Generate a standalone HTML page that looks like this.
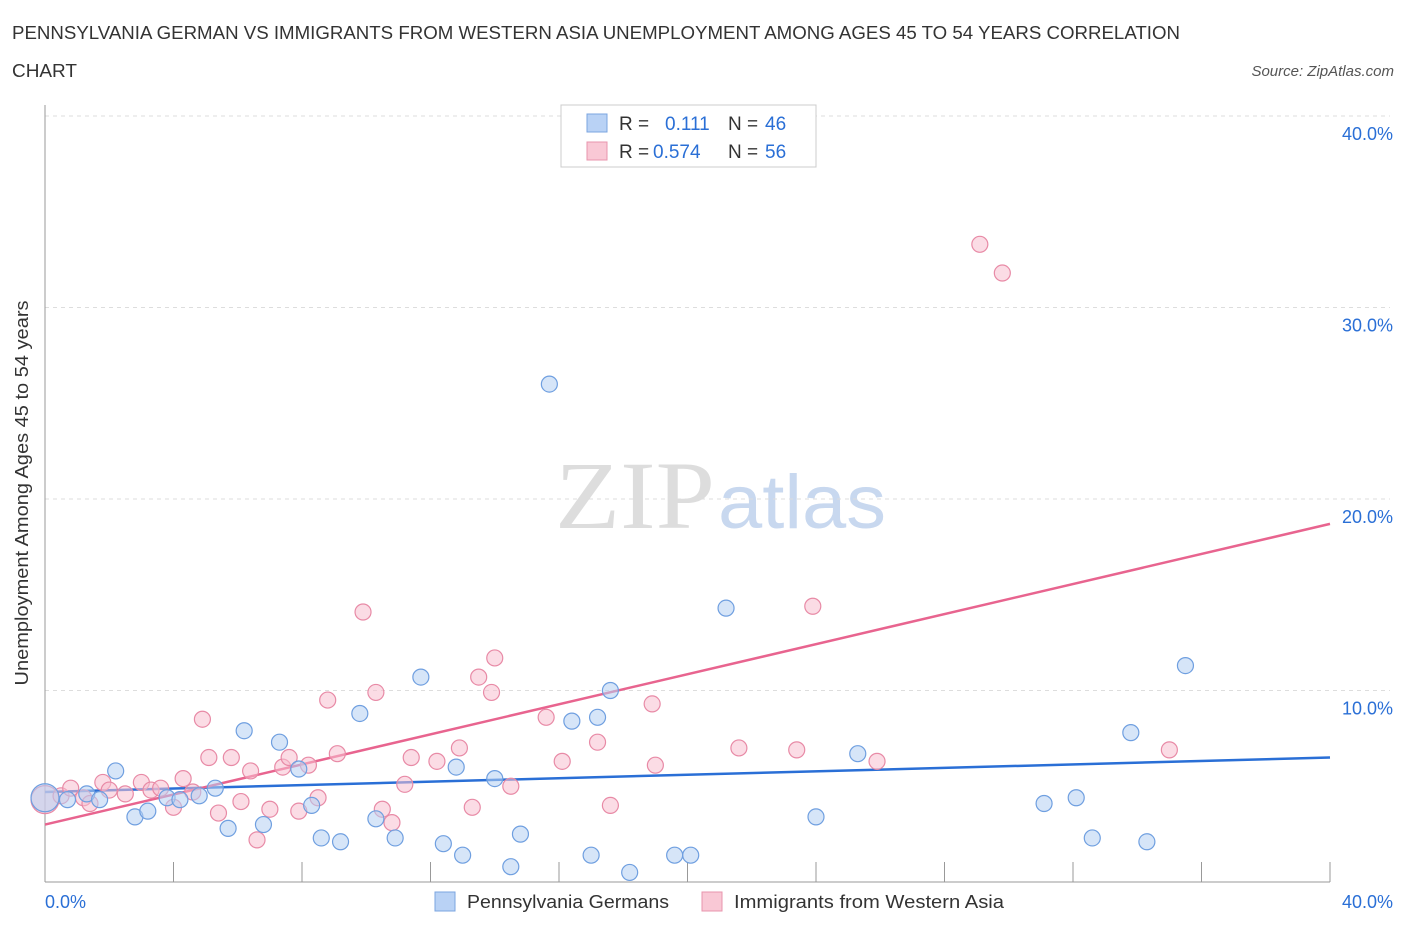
<!DOCTYPE html>
<html><head><meta charset="utf-8"><style>
body{margin:0;background:#fff;font-family:"Liberation Sans",sans-serif;}
</style></head><body>
<svg width="1406" height="930" xmlns="http://www.w3.org/2000/svg">
<text x="12" y="39" font-size="18" fill="#333" textLength="1168" lengthAdjust="spacingAndGlyphs">PENNSYLVANIA GERMAN VS IMMIGRANTS FROM WESTERN ASIA UNEMPLOYMENT AMONG AGES 45 TO 54 YEARS CORRELATION</text>
<text x="12" y="77" font-size="18" fill="#333" textLength="65" lengthAdjust="spacingAndGlyphs">CHART</text>
<text x="1394" y="76" font-size="15" fill="#555" font-style="italic" text-anchor="end">Source: ZipAtlas.com</text>
<text x="555" y="528" font-size="96" fill="#ddd" textLength="160" lengthAdjust="spacingAndGlyphs" font-family="Liberation Serif">ZIP</text>
<text x="718" y="528" font-size="76" fill="#c8d8ef" textLength="168" lengthAdjust="spacingAndGlyphs">atlas</text>
<text x="28" y="493" font-size="18" fill="#333" text-anchor="middle" textLength="385" lengthAdjust="spacingAndGlyphs" transform="rotate(-90 28 493)">Unemployment Among Ages 45 to 54 years</text>
<g id="grid"></g><g id="axes"></g><g id="lines"></g><g id="pts"></g>
<g>
<rect x="561" y="105" width="255" height="62" fill="#fff" stroke="#ccc"/>
<rect x="587" y="114" width="20" height="18" fill="#b9d2f5" stroke="#7ba5e0"/>
<text x="619" y="130" font-size="19" fill="#333">R = </text><text x="665" y="130" font-size="19" fill="#2a6fd6">0.111</text>
<text x="728" y="130" font-size="19" fill="#333">N = </text><text x="765" y="130" font-size="19" fill="#2a6fd6">46</text>
<rect x="587" y="142" width="20" height="18" fill="#f9c8d5" stroke="#e895ad"/>
<text x="619" y="158" font-size="19" fill="#333">R = </text><text x="653" y="158" font-size="19" fill="#2a6fd6">0.574</text>
<text x="728" y="158" font-size="19" fill="#333">N = </text><text x="765" y="158" font-size="19" fill="#2a6fd6">56</text>
</g>
<g>
<rect x="435" y="892" width="20" height="19" fill="#b9d2f5" stroke="#7ba5e0"/>
<text x="467" y="908" font-size="18" fill="#333" textLength="202" lengthAdjust="spacingAndGlyphs">Pennsylvania Germans</text>
<rect x="702" y="892" width="20" height="19" fill="#f9c8d5" stroke="#e895ad"/>
<text x="734" y="908" font-size="18" fill="#333" textLength="270" lengthAdjust="spacingAndGlyphs">Immigrants from Western Asia</text>
</g>
</svg>
<script>
const blueX=[0.0,0.7,1.3,1.7,2.2,2.8,3.2,3.8,4.2,4.8,5.3,5.7,6.2,6.8,7.3,7.9,8.3,8.6,9.2,9.8,10.3,10.9,11.7,12.4,12.8,13.0,14.0,14.5,14.8,15.7,16.4,17.0,17.2,17.6,18.2,19.6,20.1,21.2,24.0,25.3,31.1,32.1,32.6,33.8,34.3,35.5];
const blueY=[4.4,4.3,4.6,4.3,5.8,3.4,3.7,4.4,4.3,4.5,4.9,2.8,7.9,3.0,7.3,5.9,4.0,2.3,2.1,8.8,3.3,2.3,10.7,2.0,6.0,1.4,5.4,0.8,2.5,26.0,8.4,1.4,8.6,10.0,0.5,1.4,1.4,14.3,3.4,6.7,4.1,4.4,2.3,7.8,2.1,11.3];
const pinkX=[0.0,0.5,0.8,1.2,1.4,1.8,2.0,2.5,3.0,3.3,3.6,4.0,4.3,4.6,4.9,5.1,5.4,5.8,6.1,6.4,6.6,7.0,7.4,7.6,7.9,8.2,8.5,8.8,9.1,9.9,10.3,10.5,10.8,11.2,11.4,12.2,12.9,13.3,13.5,13.9,14.0,14.5,15.6,16.1,17.2,17.6,18.9,19.0,21.6,23.4,23.9,25.9,29.1,29.8,35.0];
const pinkY=[4.3,4.5,4.9,4.4,4.1,5.2,4.8,4.6,5.2,4.8,4.9,3.9,5.4,4.7,8.5,6.5,3.6,6.5,4.2,5.8,2.2,3.8,6.0,6.5,3.7,6.1,4.4,9.5,6.7,14.1,9.9,3.8,3.1,5.1,6.5,6.3,7.0,3.9,10.7,9.9,11.7,5.0,8.6,6.3,7.3,4.0,9.3,6.1,7.0,6.9,14.4,6.3,33.3,31.8,6.9];
const blueTrend=[4.7,6.5];
const pinkTrend=[3.0,18.7];
const yTicks=[10,20,30,40];
const yTickLabels=["10.0%","20.0%","30.0%","40.0%"];
const xTicks=[0,4,8,12,16,20,24,28,32,36,40];
const NS="http://www.w3.org/2000/svg";
const sx=v=>45+v*32.125, sy=v=>882-v*19.15;
function mk(t,a,p){const e=document.createElementNS(NS,t);for(const k in a)e.setAttribute(k,a[k]);document.getElementById(p).appendChild(e);return e;}
yTicks.forEach((t,i)=>{
 const g=mk('line',{x1:45,x2:1390,y1:sy(t),y2:sy(t),stroke:'#ddd','stroke-dasharray':'4,4'},'grid');
 
 
 const l=mk('text',{x:1393,y:sy(t)+24,'font-size':18,fill:'#2a6fd6','text-anchor':'end'},'grid');
 l.textContent=yTickLabels[i];
 
 
});
const ax=mk('line',{x1:45,x2:1330,y1:882,y2:882,stroke:'#999'},'axes');


const ay=mk('line',{x1:45,x2:45,y1:105,y2:882,stroke:'#999'},'axes');


xTicks.forEach(t=>{const k=mk('line',{x1:sx(t),x2:sx(t),y1:882,y2:862,stroke:'#999'},'axes');
 
 });
const x0=mk('text',{x:45,y:908,'font-size':18,fill:'#2a6fd6'},'axes');x0.textContent='0.0%';


const x1=mk('text',{x:1393,y:908,'font-size':18,fill:'#2a6fd6','text-anchor':'end'},'axes');x1.textContent='40.0%';


function pts(X,Y,fill,stroke,name){X.forEach((x,i)=>{const c=mk('circle',{cx:sx(x),cy:sy(Y[i]),r:i==0?14:8,fill:fill,'fill-opacity':0.55,stroke:stroke,'stroke-width':1.2},'pts');
 
 });}
pts(pinkX,pinkY,'#f7bfcf','#e88aa6','point-western-asia');
pts(blueX,blueY,'#b4cff2','#6f9fe0','point-pennsylvania');
const bl=mk('line',{x1:sx(0),x2:sx(40),y1:sy(blueTrend[0]),y2:sy(blueTrend[1]),stroke:'#2a6fd6','stroke-width':2.5},'lines');


const pl=mk('line',{x1:sx(0),x2:sx(40),y1:sy(pinkTrend[0]),y2:sy(pinkTrend[1]),stroke:'#e8648f','stroke-width':2.5},'lines');


</script>
</body></html>
